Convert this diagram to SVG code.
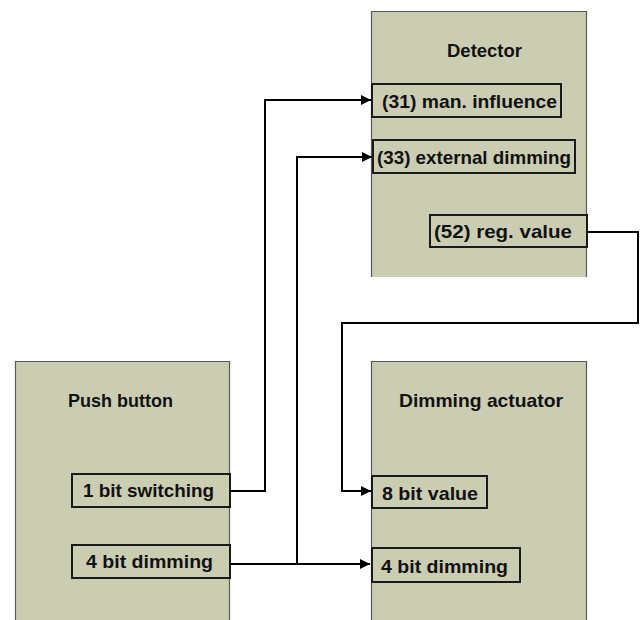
<svg xmlns="http://www.w3.org/2000/svg" width="641" height="620" viewBox="0 0 641 620">
<style>
.bg{fill:#cbcdb2;stroke:none}
.edge{fill:none;stroke:#5a5a5a;stroke-width:1.2}
.port{fill:#cbcdb2;stroke:#1a1a1a;stroke-width:2}
text{font-family:"Liberation Sans",Arial,sans-serif;font-weight:bold;font-size:19px;fill:#111}
.conn{fill:none;stroke:#000;stroke-width:2}
</style>
<defs>
<marker id="arr" markerUnits="userSpaceOnUse" markerWidth="12" markerHeight="12" viewBox="0 0 12 12" refX="11" refY="6" orient="auto">
<path d="M1,1 L11,6 L1,11 Z" fill="#000"/>
</marker>
</defs>
<rect width="641" height="620" fill="#fff"/>
<g id="detector">
<rect class="bg" x="371" y="11" width="216" height="266"/>
<path class="edge" d="M371.5,277 V11.5 H586.5 V277"/>
<text x="484.5" y="57" text-anchor="middle" textLength="75" lengthAdjust="spacingAndGlyphs">Detector</text>
<g id="port-31">
<rect class="port" x="372" y="84" width="189" height="33"/>
<text x="382" y="108" textLength="175" lengthAdjust="spacingAndGlyphs">(31) man. influence</text>
</g>
<g id="port-33">
<rect class="port" x="373" y="140" width="202" height="33"/>
<text x="377" y="164" textLength="194" lengthAdjust="spacingAndGlyphs">(33) external dimming</text>
</g>
<g id="port-52">
<rect class="port" x="430" y="215" width="157" height="32"/>
<text x="434" y="238" textLength="138" lengthAdjust="spacingAndGlyphs">(52) reg. value</text>
</g>
</g>
<g id="push-button">
<rect class="bg" x="15" y="361" width="215" height="259"/>
<path class="edge" d="M15.5,620 V361.5 H229.5 V620"/>
<text x="120.5" y="407" text-anchor="middle" textLength="105" lengthAdjust="spacingAndGlyphs">Push button</text>
<g id="pb-1bit">
<rect class="port" x="72" y="474" width="158" height="33"/>
<text x="83" y="497" textLength="131" lengthAdjust="spacingAndGlyphs">1 bit switching</text>
</g>
<g id="pb-4bit">
<rect class="port" x="72" y="545" width="158" height="33"/>
<text x="86" y="568" textLength="127" lengthAdjust="spacingAndGlyphs">4 bit dimming</text>
</g>
</g>
<g id="dimming-actuator">
<rect class="bg" x="371" y="361" width="216" height="259"/>
<path class="edge" d="M371.5,620 V361.5 H586.5 V620"/>
<text x="481" y="407" text-anchor="middle" textLength="164" lengthAdjust="spacingAndGlyphs">Dimming actuator</text>
<g id="da-8bit">
<rect class="port" x="372" y="476" width="115" height="32"/>
<text x="382" y="500" textLength="96" lengthAdjust="spacingAndGlyphs">8 bit value</text>
</g>
<g id="da-4bit">
<rect class="port" x="372" y="548" width="148" height="34"/>
<text x="381" y="573" textLength="127" lengthAdjust="spacingAndGlyphs">4 bit dimming</text>
</g>
</g>
<g id="connectors">
<path class="conn" d="M230,491 H265 V100 H371" marker-end="url(#arr)"/>
<path class="conn" d="M297,564 V157 H372" marker-end="url(#arr)"/>
<path class="conn" d="M230,564 H370" marker-end="url(#arr)"/>
<path class="conn" d="M587,232 H638 V323 H342 V491 H371" marker-end="url(#arr)"/>
</g>
</svg>
